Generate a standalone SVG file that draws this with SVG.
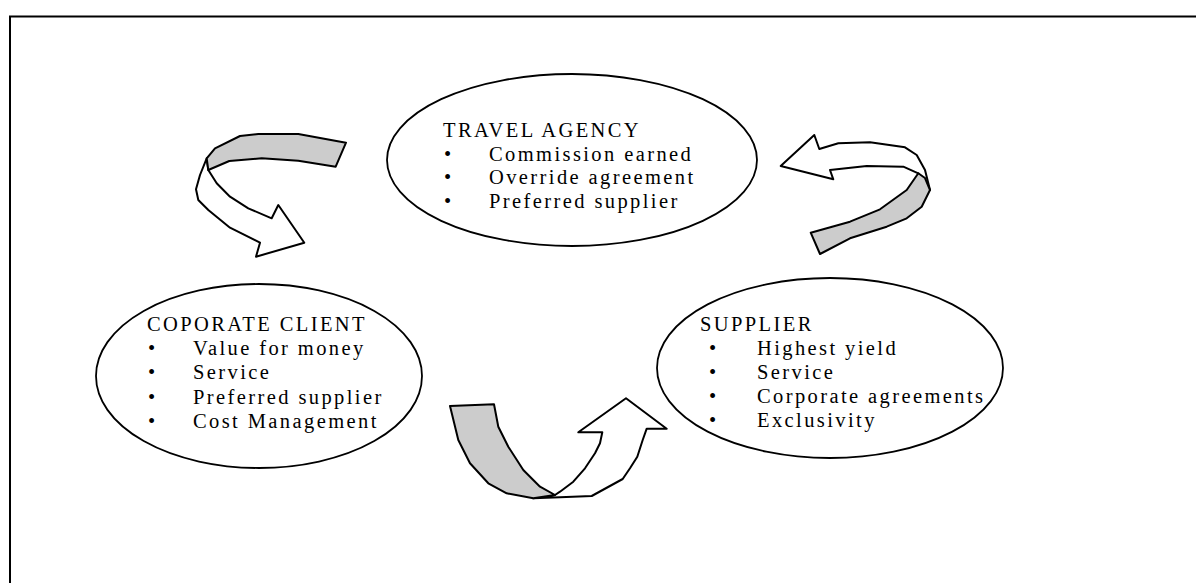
<svg xmlns="http://www.w3.org/2000/svg" width="1196" height="583" viewBox="0 0 1196 583">
<style>
.node ellipse{fill:#fff;stroke:#000;stroke-width:1.8}
.t{font-family:"Liberation Serif","Times New Roman",serif;font-size:20.5px;letter-spacing:2.4px;fill:#000}
.b{font-family:"Liberation Serif","Times New Roman",serif;font-size:20.5px;fill:#000}
.w{fill:#fff;stroke:#000;stroke-width:2;stroke-linejoin:round}
.g{fill:#cccccc;stroke:#000;stroke-width:2;stroke-linejoin:round}
</style>
<rect x="0" y="0" width="1196" height="583" fill="#fff"/>
<path d="M10 600 L10 16.5 L1210 16.5" fill="none" stroke="#000" stroke-width="2"/>

<g id="travel-agency" class="node">
<ellipse cx="572" cy="160" rx="185" ry="86"/>
<text class="t" x="443" y="137">TRAVEL AGENCY</text>
<text class="b" x="444" y="161">•</text><text class="t" x="489" y="161">Commission earned</text>
<text class="b" x="444" y="184">•</text><text class="t" x="489" y="184">Override agreement</text>
<text class="b" x="444" y="208">•</text><text class="t" x="489" y="208">Preferred supplier</text>
</g>

<g id="corporate-client" class="node">
<ellipse cx="259" cy="376" rx="163" ry="92"/>
<text class="t" x="147" y="331">COPORATE CLIENT</text>
<text class="b" x="148" y="355">•</text><text class="t" x="193" y="355">Value for money</text>
<text class="b" x="148" y="379">•</text><text class="t" x="193" y="379">Service</text>
<text class="b" x="148" y="404">•</text><text class="t" x="193" y="404">Preferred supplier</text>
<text class="b" x="148" y="428">•</text><text class="t" x="193" y="428">Cost Management</text>
</g>

<g id="supplier" class="node">
<ellipse cx="830" cy="368" rx="173" ry="90"/>
<text class="t" x="700" y="331">SUPPLIER</text>
<text class="b" x="709" y="355">•</text><text class="t" x="757" y="355">Highest yield</text>
<text class="b" x="709" y="379">•</text><text class="t" x="757" y="379">Service</text>
<text class="b" x="709" y="403">•</text><text class="t" x="757" y="403">Corporate agreements</text>
<text class="b" x="709" y="427">•</text><text class="t" x="757" y="427">Exclusivity</text>
</g>

<g id="connectors">
<g id="arrow-travel-to-client">
<path class="w" d="M206.7 158.3 L200 175 L196 189.3 L198.3 200 L208.3 210 L230 227.7 L260 242.7 L256 256.7 L304.3 242.7 L278.3 205 L271.7 218.3 L248.3 208.3 L230 196.7 L216.7 183.3 L208.3 170 Z"/>
<path class="g" d="M206.7 158.3 L215 148.3 L240 136 L258.3 134 L298.3 134 L346 142.7 L335.7 166.7 L298.3 160.7 L261.7 158.3 L229.3 161 L208.3 170 Z"/>
</g>
<g id="arrow-supplier-to-travel">
<path class="w" d="M780.7 166 L814.3 135 L819.3 149 L838.3 143.3 L870 142.3 L905 147.3 L916.7 155 L925 170 L930 190 L918.3 173.3 L903.3 166.7 L866.7 166 L830 170 L833.3 179.3 Z"/>
<path class="g" d="M918.3 173.3 L925 178 L930 190 L921.7 206.7 L906.7 218.3 L886.7 226.7 L850 238.3 L820 254 L810.7 232.7 L850 221.7 L880 209.3 L906.7 190 Z"/>
</g>
<g id="arrow-client-to-supplier">
<path class="w" d="M533.3 498.3 L560 497.3 L591.7 496 L622.7 479 L630 468.3 L637.3 456.7 L642.7 440 L646.7 428.7 L666.7 428.7 L626 398.3 L578.3 432.3 L602.3 432.3 L600 443.3 L595 453.3 L585 468.3 L573.3 481.7 L560 491.7 L555 495 Z"/>
<path class="g" d="M450 406 L494 404.3 L498.3 426.7 L508.3 446.7 L523.3 470 L540 486.7 L555 495 L533.3 498.3 L506.7 493.3 L488.3 483.3 L470 463.3 L458.3 440 Z"/>
</g>
</g>
</svg>
